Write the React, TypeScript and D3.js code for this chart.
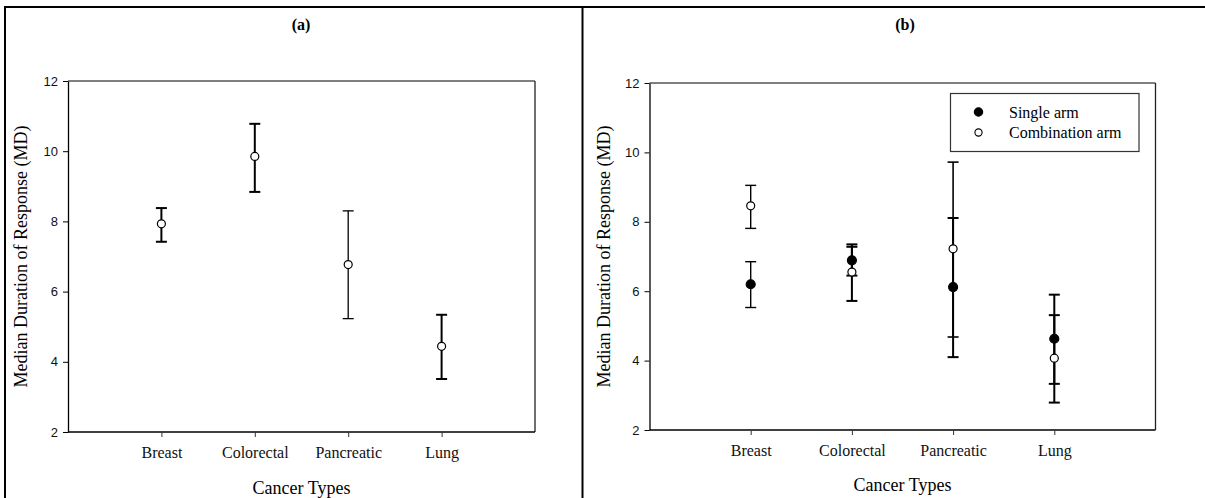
import React, { useRef, useEffect } from "react";
import * as d3 from "d3";

// data
const categories = ["Breast", "Colorectal", "Pancreatic", "Lung"];
const yTicks = [2, 4, 6, 8, 10, 12];

// panel (a): all arms pooled
const pooledMid = [7.93, 9.85, 6.77, 4.44];
const pooledLow = [7.42, 8.84, 5.23, 3.51];
const pooledHigh = [8.38, 10.78, 8.3, 5.34];

// panel (b)
const singleMid = [6.2, 6.89, 6.12, 4.63];
const singleLow = [5.53, 6.45, 4.1, 3.33];
const singleHigh = [6.85, 7.35, 8.11, 5.9];

const comboMid = [8.46, 6.55, 7.22, 4.07];
const comboLow = [7.81, 5.72, 4.68, 2.79];
const comboHigh = [9.05, 7.28, 9.72, 5.31];

const legendLabels = ["Single arm", "Combination arm"];

const W = 1205;
const H = 498;
const serif = "'Liberation Serif', 'Times New Roman', serif";
const sans = "'Liberation Sans', Arial, sans-serif";

type Series = { mid: number[]; low: number[]; high: number[]; filled: boolean; weight: number[] };

const App = () => {
  const svgRef = useRef<SVGSVGElement>(null);

  useEffect(() => {
    const svg = d3.select(svgRef.current);
    svg.selectAll("*").remove();

    // figure frame
    const frame = svg.append("g").attr("stroke", "#000").attr("stroke-width", 2).attr("fill", "none");
    frame.append("line").attr("x1", 4).attr("x2", W).attr("y1", 7).attr("y2", 7);
    frame.append("line").attr("x1", 5).attr("x2", 5).attr("y1", 6).attr("y2", H);
    frame.append("line").attr("x1", 582.5).attr("x2", 582.5).attr("y1", 6).attr("y2", H);

    const drawPanel = (
      box: { left: number; right: number; top: number; bottom: number },
      title: string,
      titleX: number,
      yLabelX: number,
      xLabelY: number,
      series: Series[]
    ) => {
      const g = svg.append("g");
      const x = d3.scaleLinear().domain([0, categories.length + 1]).range([box.left, box.right]);
      const y = d3.scaleLinear().domain([2, 12]).range([box.bottom, box.top]);

      // top & right frame
      g.append("line")
        .attr("x1", box.left).attr("x2", box.right)
        .attr("y1", box.top).attr("y2", box.top)
        .attr("stroke", "#555").attr("stroke-width", 1.3);
      g.append("line")
        .attr("x1", box.right).attr("x2", box.right)
        .attr("y1", box.top).attr("y2", box.bottom)
        .attr("stroke", "#222").attr("stroke-width", 1.3);

      const yAxis = g.append("g")
        .attr("transform", `translate(${box.left},0)`)
        .call(d3.axisLeft(y).tickValues(yTicks).tickSize(5).tickSizeOuter(0).tickPadding(5).tickFormat(d3.format("d")));
      yAxis.select(".domain").attr("stroke", "#000").attr("stroke-width", 1.3);
      yAxis.selectAll(".tick line").attr("stroke", "#000");
      yAxis.selectAll("text").attr("font-family", sans).attr("font-size", 13).attr("fill", "#111");

      const xAxis = g.append("g")
        .attr("transform", `translate(0,${box.bottom})`)
        .call(
          d3.axisBottom(x)
            .tickValues(categories.map((_, i) => i + 1))
            .tickSize(5)
            .tickPadding(10)
            .tickFormat((d) => categories[(d as number) - 1])
        );
      xAxis.select(".domain").attr("stroke", "#000").attr("stroke-width", 1.5).attr("d", `M${box.left},0H${box.right}`);
      xAxis.selectAll(".tick line").attr("stroke", "#333");
      xAxis.selectAll("text").attr("font-family", serif).attr("font-size", 16).attr("fill", "#111");

      g.append("text")
        .attr("x", titleX).attr("y", 30)
        .attr("text-anchor", "middle")
        .attr("font-family", serif).attr("font-weight", "bold").attr("font-size", 16)
        .text(title);

      g.append("text")
        .attr("x", (box.left + box.right) / 2).attr("y", xLabelY)
        .attr("text-anchor", "middle")
        .attr("font-family", serif).attr("font-size", 18)
        .text("Cancer Types");

      g.append("text")
        .attr("transform", `translate(${yLabelX},${(box.top + box.bottom) / 2}) rotate(-90)`)
        .attr("text-anchor", "middle")
        .attr("dominant-baseline", "central")
        .attr("font-family", serif).attr("font-size", 18)
        .text("Median Duration of Response (MD)");

      series.forEach((s) => {
        const bars = g.append("g").attr("stroke", "#000").attr("fill", "none");
        categories.forEach((_, i) => {
          const cx = x(i + 1);
          const sw = s.weight[i];
          bars.append("line")
            .attr("x1", cx).attr("x2", cx)
            .attr("y1", y(s.low[i])).attr("y2", y(s.high[i]))
            .attr("stroke-width", sw);
          [s.low[i], s.high[i]].forEach((v) => {
            bars.append("line")
              .attr("x1", cx - 5.5).attr("x2", cx + 5.5)
              .attr("y1", y(v)).attr("y2", y(v))
              .attr("stroke-width", sw);
          });
        });
      });
      series.forEach((s) => {
        g.append("g")
          .selectAll("circle")
          .data(s.mid)
          .join("circle")
          .attr("cx", (_, i) => x(i + 1))
          .attr("cy", (d) => y(d))
          .attr("r", s.filled ? 4.5 : 4)
          .attr("fill", s.filled ? "#000" : "#fff")
          .attr("stroke", "#000")
          .attr("stroke-width", 1.2);
      });
      return g;
    };

    drawPanel(
      { left: 68, right: 535, top: 81, bottom: 432 },
      "(a)", 301, 21, 494,
      [{ mid: pooledMid, low: pooledLow, high: pooledHigh, filled: false, weight: [2, 2, 1.3, 2] }]
    );

    const gb = drawPanel(
      { left: 649.5, right: 1155.5, top: 83, bottom: 430 },
      "(b)", 905, 604, 491,
      [
        { mid: singleMid, low: singleLow, high: singleHigh, filled: true, weight: [1.4, 2, 2, 2] },
        { mid: comboMid, low: comboLow, high: comboHigh, filled: false, weight: [1.4, 2, 1.6, 2] },
      ]
    );

    // legend
    const lg = gb.append("g");
    lg.append("rect")
      .attr("x", 950.5).attr("y", 93.5).attr("width", 188.5).attr("height", 58)
      .attr("fill", "#fff").attr("stroke", "#333").attr("stroke-width", 1.2);
    legendLabels.forEach((label, i) => {
      const ly = 112 + i * 20.5;
      lg.append("circle")
        .attr("cx", 978.5).attr("cy", ly)
        .attr("r", i === 0 ? 4.2 : 3.6)
        .attr("fill", i === 0 ? "#000" : "#fff")
        .attr("stroke", "#000").attr("stroke-width", 1.1);
      lg.append("text")
        .attr("x", 1009).attr("y", ly)
        .attr("dominant-baseline", "central")
        .attr("font-family", serif).attr("font-size", 16)
        .text(label);
    });
  }, []);

  return (
    <svg
      ref={svgRef}
      width={W}
      height={H}
      style={{ position: "absolute", left: 0, top: 0, background: "#fff" }}
    />
  );
};

export default App;
